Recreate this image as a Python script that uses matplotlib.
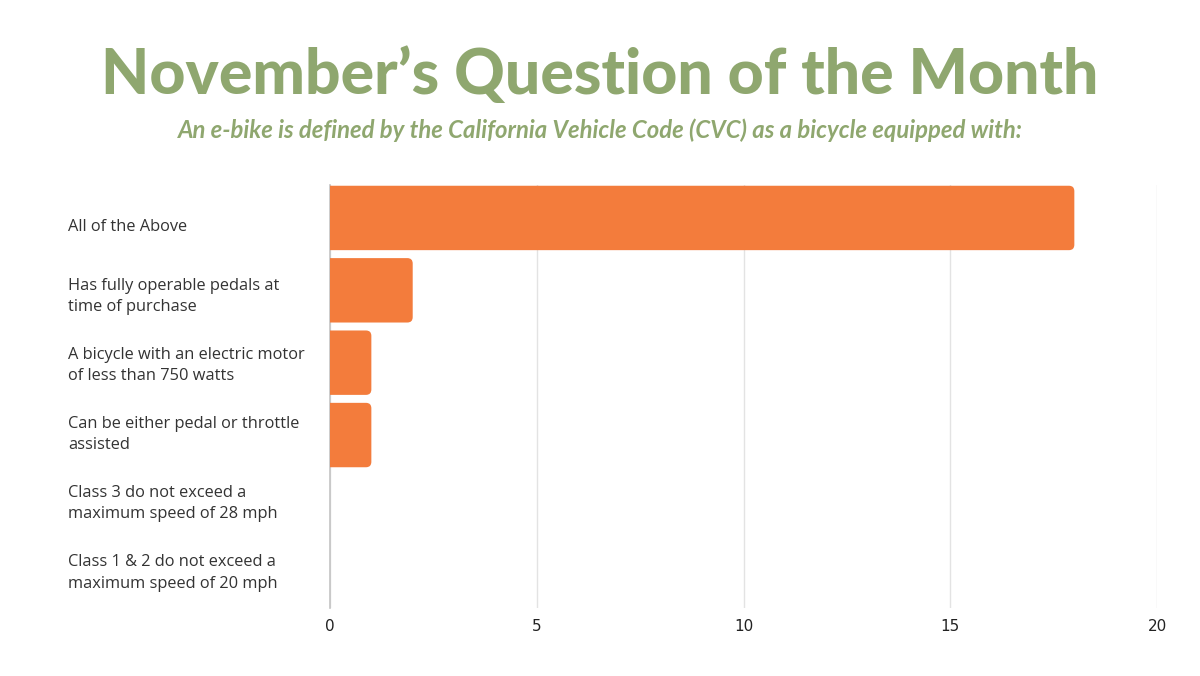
import matplotlib
matplotlib.use("Agg")
import matplotlib.pyplot as plt
from matplotlib.patches import PathPatch
from matplotlib.path import Path
from matplotlib.transforms import blended_transform_factory

# Data
categories = [
    "All of the Above",
    "Has fully operable pedals at\ntime of purchase",
    "A bicycle with an electric motor\nof less than 750 watts",
    "Can be either pedal or throttle\nassisted",
    "Class 3 do not exceed a\nmaximum speed of 28 mph",
    "Class 1 & 2 do not exceed a\nmaximum speed of 20 mph",
]
votes = [18, 2, 1, 1, 0, 0]
x_ticks = [0, 5, 10, 15, 20]

title = "November\u2019s Question of the Month"
subtitle = "An e-bike is defined by the California Vehicle Code (CVC) as a bicycle equipped with:"

green = "#8fa76f"
orange = "#f37c3c"


def rounded_right_bar(x0, y0, w, h, rx, ry):
    # square left corners, rounded right corners
    rx = min(rx, w / 2)
    verts = [(x0, y0), (x0 + w - rx, y0), (x0 + w, y0), (x0 + w, y0 + ry),
             (x0 + w, y0 + h - ry), (x0 + w, y0 + h), (x0 + w - rx, y0 + h),
             (x0, y0 + h), (x0, y0)]
    codes = [Path.MOVETO, Path.LINETO, Path.CURVE3, Path.CURVE3,
             Path.LINETO, Path.CURVE3, Path.CURVE3, Path.LINETO, Path.CLOSEPOLY]
    return Path(verts, codes)


fig = plt.figure(figsize=(12, 6.76), dpi=100)
ax = fig.add_axes([0.275, 0.1006, 0.6892, 0.6258])

ypos = list(range(len(categories)))
bars = ax.barh(ypos, votes, height=0.89, color=orange)

ax.set_xlim(0, 20)
ax.set_ylim(5.39, -0.456)

for b in bars:
    b.set_visible(False)
    w = b.get_width()
    if w <= 0:
        continue
    ax.add_patch(PathPatch(rounded_right_bar(b.get_x(), b.get_y(), w, b.get_height(), 0.13, 0.075),
                           fc=orange, ec="none", zorder=3))

ax.set_xticks(x_ticks)
ax.set_xticklabels([str(t) for t in x_ticks], fontsize=11, color="#222222")
ax.tick_params(axis="x", length=0, pad=8)
ax.grid(axis="x", color="#e3e3e3", linewidth=1, zorder=0)
ax.set_axisbelow(True)

# category labels sit on their own slightly tighter spacing than the bars
ax.set_yticks([])
label_trans = blended_transform_factory(fig.transFigure, ax.transData)
for i, lab in enumerate(categories):
    ax.text(68 / 1200, i * 0.955 + 0.13, lab, transform=label_trans,
            ha="left", va="center", fontsize=11.8, color="#333333", family="Open Sans",
            linespacing=1.45)

for s in ["top", "right", "bottom"]:
    ax.spines[s].set_visible(False)
ax.spines["left"].set_color("#c4c4c4")
ax.spines["left"].set_linewidth(1.2)

fig.text(0.5, 0.888, title, ha="center", va="center", fontsize=45,
         fontweight="black", color=green, family="Lato")
fig.text(0.5, 0.808, subtitle, ha="center", va="center", fontsize=17.2,
         fontweight="bold", style="italic", color=green, family="Lato")

fig.savefig("out.png", dpi=100, facecolor="white")
